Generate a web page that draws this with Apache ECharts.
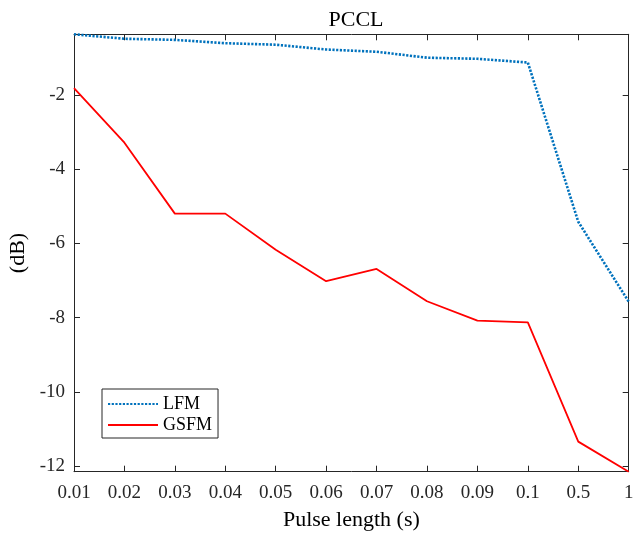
<!DOCTYPE html>
<html>
<head>
<meta charset="utf-8">
<script src="https://cdn.jsdelivr.net/npm/echarts@6/dist/echarts.min.js"></script>
<style>html,body{margin:0;padding:0;background:#fff;}#c{width:643px;height:533px;}</style>
</head>
<body>
<div id="c"></div>
<script>
const categories = ['0.01','0.02','0.03','0.04','0.05','0.06','0.07','0.08','0.09','0.1','0.5','1'];
const lfm  = [-0.37,-0.49,-0.52,-0.61,-0.65,-0.78,-0.84,-1.0,-1.03,-1.13,-5.42,-7.57];
const gsfm = [-1.82,-3.29,-5.2,-5.2,-6.17,-7.02,-6.69,-7.56,-8.08,-8.13,-11.34,-12.15];
const yTicks = [-12,-10,-8,-6,-4,-2];

const font = '"Liberation Serif", "Times New Roman", serif';
const axisCol = '#262626';
const chart = echarts.init(document.getElementById('c'), null, {renderer:'canvas'});
const commonAxisLine = {show:true, lineStyle:{color:axisCol, width:1}};
chart.setOption({
  animation:false,
  backgroundColor:'#fff',
  title:{text:'PCCL', left:351, top:4, textAlign:'center',
    textStyle:{fontFamily:font, fontSize:22, fontWeight:'normal', color:'#000'}},
  grid:{left:74, right:14.3, top:34.3, bottom:61.3, containLabel:false, outerBoundsMode:'none'},
  legend:{
    left:102, top:389, orient:'vertical', itemWidth:50, itemHeight:14, itemGap:3,
    backgroundColor:'#fff', borderColor:axisCol, borderWidth:1, padding:[6,6,4,5],
    itemStyle:{opacity:0},
    textStyle:{fontFamily:font, fontSize:18, color:'#000'},
    data:['LFM','GSFM']
  },
  xAxis:[{
    type:'category', data:categories, boundaryGap:false, position:'bottom',
    name:'Pulse length (s)', nameLocation:'middle', nameGap:38,
    nameTextStyle:{fontFamily:font, fontSize:22, color:'#000'},
    axisLine:commonAxisLine,
    axisTick:{show:true, inside:true, length:6, lineStyle:{color:axisCol}},
    axisLabel:{fontFamily:font, fontSize:19, color:'#262626', margin:12, interval:0},
    splitLine:{show:false}
  },{
    type:'category', data:categories, boundaryGap:false, position:'top',
    axisLine:commonAxisLine,
    axisTick:{show:true, inside:true, length:6, lineStyle:{color:axisCol}},
    axisLabel:{show:false}, splitLine:{show:false}
  }],
  yAxis:[{
    type:'value', min:-12.15, max:-0.37, position:'left',
    name:'(dB)', nameLocation:'middle', nameGap:36, nameRotate:90,
    nameTextStyle:{fontFamily:font, fontSize:22, color:'#000'},
    axisLine:commonAxisLine,
    axisTick:{show:true, inside:true, length:6, lineStyle:{color:axisCol}, customValues:yTicks},
    axisLabel:{fontFamily:font, fontSize:19, color:'#262626', margin:9, padding:[3,0,0,0], customValues:yTicks},
    splitLine:{show:false}
  },{
    type:'value', min:-12.15, max:-0.37, position:'right',
    axisLine:commonAxisLine,
    axisTick:{show:true, inside:true, length:6, lineStyle:{color:axisCol}, customValues:yTicks},
    axisLabel:{show:false, customValues:yTicks},
    splitLine:{show:false}
  }],
  series:[{
    name:'LFM', type:'line', data:lfm, xAxisIndex:0, yAxisIndex:0,
    symbol:'none', color:'#0072BD',
    lineStyle:{color:'#0072BD', width:2.6, type:[2.2,1.5]}
  },{
    name:'GSFM', type:'line', data:gsfm, xAxisIndex:0, yAxisIndex:0,
    symbol:'none', color:'#FF0000',
    lineStyle:{color:'#FF0000', width:1.8, type:'solid'}
  }]
});
</script>
</body>
</html>
